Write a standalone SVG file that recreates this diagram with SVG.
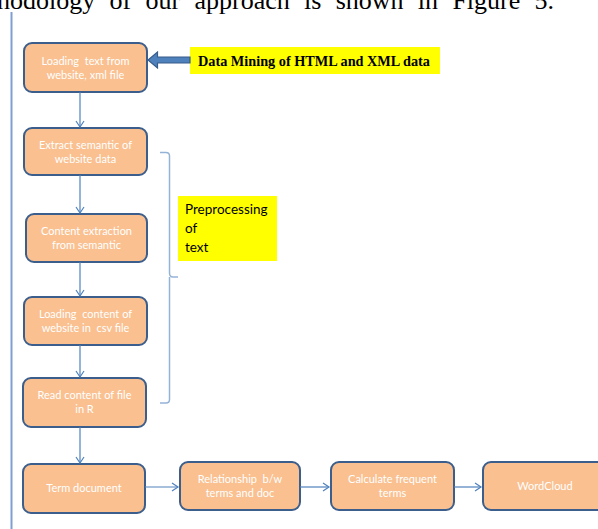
<svg xmlns="http://www.w3.org/2000/svg" width="598" height="529" viewBox="0 0 598 529">
<style>
.node{fill:#FAC090;stroke:#3B5E8C;stroke-width:2}
.nt{font-family:Lato,"Open Sans",sans-serif;font-size:11px;fill:#FFFFFF;text-anchor:middle}
.conn{fill:none;stroke:#4F81BD;stroke-width:1.2}
.hl{fill:#FFFF00}
</style>
<defs>
<marker id="arr" markerWidth="10" markerHeight="10" refX="8" refY="5" orient="auto" markerUnits="userSpaceOnUse">
<path d="M2,1 L8,5 L2,9" fill="none" stroke="#4F81BD" stroke-width="1.2"/>
</marker>
</defs>
<rect width="598" height="529" fill="#FFFFFF"/>
<text x="-3" y="9" font-family="Liberation Serif,serif" font-size="26" word-spacing="7.8" fill="#000">hodology of our approach is shown in Figure 5.</text>
<line x1="11.5" y1="12" x2="11.5" y2="529" stroke="#7F9FD0" stroke-width="2"/>

<g id="n1"><rect class="node" x="24" y="43" width="123" height="49" rx="8"/><text class="nt" xml:space="preserve" x="85.5" y="65">Loading  text from</text><text class="nt" x="85.5" y="79">website, xml file</text></g>
<g id="n2"><rect class="node" x="24" y="128" width="123" height="47" rx="8"/><text class="nt" x="85.5" y="149">Extract semantic of</text><text class="nt" x="85.5" y="163">website data</text></g>
<g id="n3"><rect class="node" x="26" y="214" width="121" height="48" rx="8"/><text class="nt" x="86.5" y="235">Content extraction</text><text class="nt" x="86.5" y="249">from semantic</text></g>
<g id="n4"><rect class="node" x="24" y="297" width="123" height="48" rx="8"/><text class="nt" xml:space="preserve" x="85.5" y="318">Loading  content of</text><text class="nt" xml:space="preserve" x="85.5" y="332">website in  csv file</text></g>
<g id="n5"><rect class="node" x="23" y="378" width="123" height="49" rx="8"/><text class="nt" x="84.5" y="399">Read content of file</text><text class="nt" x="84.5" y="413">in R</text></g>
<g id="n6"><rect class="node" x="23" y="464" width="122" height="49" rx="8"/><text class="nt" x="84" y="492">Term document</text></g>
<g id="n7"><rect class="node" x="180" y="462" width="120" height="48" rx="8"/><text class="nt" xml:space="preserve" x="240" y="483">Relationship  b/w</text><text class="nt" x="240" y="497">terms and doc</text></g>
<g id="n8"><rect class="node" x="331" y="462" width="123" height="48" rx="8"/><text class="nt" x="392.5" y="483">Calculate frequent</text><text class="nt" x="392.5" y="497">terms</text></g>
<g id="n9"><rect class="node" x="483" y="462" width="124" height="48" rx="8"/><text class="nt" x="545" y="490">WordCloud</text></g>

<g id="datamining"><rect class="hl" x="190" y="47" width="250" height="27"/><text x="198" y="65.5" font-family="Liberation Serif,serif" font-weight="bold" font-size="15" textLength="232" lengthAdjust="spacingAndGlyphs" fill="#000">Data Mining of HTML and XML data</text></g>
<g id="preprocessing"><rect class="hl" x="178" y="196" width="99" height="65"/><text font-family="Lato,'Open Sans',sans-serif" font-size="13.5" fill="#000"><tspan x="185" y="214">Preprocessing</tspan><tspan x="185" y="233">of</tspan><tspan x="185" y="252">text</tspan></text></g>

<g id="connectors">
<path class="conn" d="M80,92 V127" marker-end="url(#arr)"/>
<path class="conn" d="M80,175 V213" marker-end="url(#arr)"/>
<path class="conn" d="M80,262 V296" marker-end="url(#arr)"/>
<path class="conn" d="M80,345 V377" marker-end="url(#arr)"/>
<path class="conn" d="M80,427 V463" marker-end="url(#arr)"/>
<path class="conn" d="M145,487 H178" marker-end="url(#arr)"/>
<path class="conn" d="M300,487 H329" marker-end="url(#arr)"/>
<path class="conn" d="M454,487 H481" marker-end="url(#arr)"/>
<path d="M190,57 H157.5 V52 L148,60 L157.5,68 V63 H190 Z" fill="#4F81BD" stroke="#385D8A" stroke-width="1.2"/>
<path d="M160,152.5 H166 Q169.5,152.5 169.5,156 V273 Q169.5,277 173,277 H178 M169.5,277 V399.5 Q169.5,403 166,403 H160" fill="none" stroke="#95B3D7" stroke-width="1.5"/>
</g>
</svg>
